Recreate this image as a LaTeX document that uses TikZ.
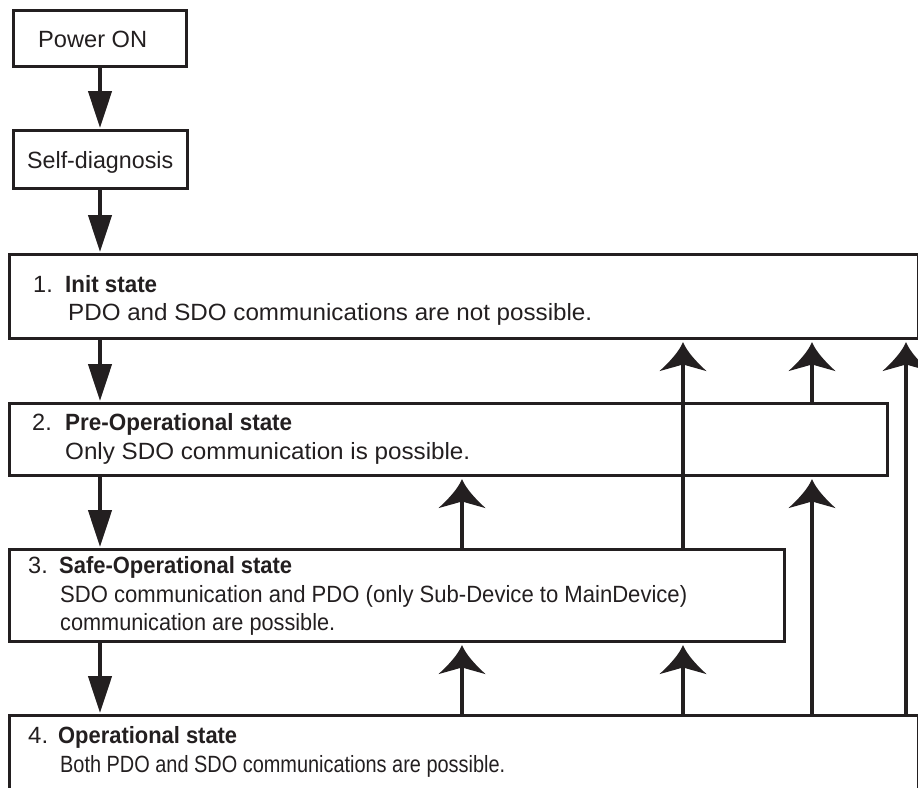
\documentclass[tikz,border=0pt]{standalone}
\usepackage{graphicx}
\usepackage{fontspec}
\setmainfont{Liberation Sans}
\usetikzlibrary{arrows.meta}
\definecolor{ink}{RGB}{35,31,32}

% Arrow head with swept-back, concave sides
\pgfdeclarearrow{
  name = Swept,
  parameters = {\the\pgfarrowlength,\the\pgfarrowwidth},
  setup code = {
    \pgfarrowssettipend{0pt}
    \pgfarrowssetbackend{-\pgfarrowlength}
    \pgfarrowssetlineend{-.72\pgfarrowlength}
    \pgfarrowssetvisualbackend{-.72\pgfarrowlength}
    \pgfarrowssavethe\pgfarrowlength
    \pgfarrowssavethe\pgfarrowwidth
  },
  drawing code = {
    \pgfpathmoveto{\pgfpointorigin}
    \pgfpathcurveto
      {\pgfpoint{-.35\pgfarrowlength}{.09\pgfarrowwidth}}
      {\pgfpoint{-.7\pgfarrowlength}{.3\pgfarrowwidth}}
      {\pgfpoint{-\pgfarrowlength}{.5\pgfarrowwidth}}
    \pgfpathcurveto
      {\pgfpoint{-.9\pgfarrowlength}{.28\pgfarrowwidth}}
      {\pgfpoint{-.81\pgfarrowlength}{.08\pgfarrowwidth}}
      {\pgfpoint{-.77\pgfarrowlength}{0pt}}
    \pgfpathcurveto
      {\pgfpoint{-.81\pgfarrowlength}{-.08\pgfarrowwidth}}
      {\pgfpoint{-.9\pgfarrowlength}{-.28\pgfarrowwidth}}
      {\pgfpoint{-\pgfarrowlength}{-.5\pgfarrowwidth}}
    \pgfpathcurveto
      {\pgfpoint{-.7\pgfarrowlength}{-.3\pgfarrowwidth}}
      {\pgfpoint{-.35\pgfarrowlength}{-.09\pgfarrowwidth}}
      {\pgfpointorigin}
    \pgfpathclose
    \pgfusepathqfill
  },
  defaults = {length = 28pt, width = 47pt}
}

% set a line of text to a given width, keeping its height
\newcommand\fitline[2]{\resizebox{#1pt}{\height}{#2}}

\begin{document}
\begin{tikzpicture}[x=1pt,y=-1pt,
  box/.style={draw=ink, line width=2.6pt, rectangle, anchor=north west, inner sep=0pt},
  txt/.style={anchor=base west, inner sep=0pt, font=\fontsize{23.5}{28}\selectfont, text=ink},
  down/.style={draw=ink, line width=4.5pt, -{Triangle[length=37pt,width=23pt]}, shorten >=1pt},
  up/.style={draw=ink, line width=4.5pt, -{Swept[length=29pt,width=47pt]}, shorten >=2.5pt}]
\useasboundingbox (0,0) rectangle (918,787);

% boxes
\node[box, minimum width=173pt, minimum height=56pt] (pwr)  at (12,9) {};
\node[box, minimum width=174pt, minimum height=58pt] (self) at (12,129) {};
\node[box, minimum width=909pt, minimum height=84pt] (init) at (8,253) {};
\node[box, minimum width=878pt, minimum height=72pt] (pre)  at (8,402) {};
\node[box, minimum width=775pt, minimum height=92pt] (safe) at (8,548) {};
\node[box, minimum width=909pt, minimum height=100pt] (op)  at (8,714) {};

% texts
\node[txt] (t0) at (38,48)  {\fitline{109}{Power ON}};
\node[txt] (t1) at (27,168) {\fitline{146}{Self-diagnosis}};
\node[txt] (n1) at (33,292) {1.};
\node[txt] (h1) at (65,292) {\fitline{92}{\bfseries Init state}};
\node[txt] (d1) at (68,320) {\fitline{524}{PDO and SDO communications are not possible.}};
\node[txt] (n2) at (32,430) {2.};
\node[txt] (h2) at (65,430) {\fitline{227}{\bfseries Pre-Operational state}};
\node[txt] (d2) at (65,459) {\fitline{405}{Only SDO communication is possible.}};
\node[txt] (n3) at (28,573) {3.};
\node[txt] (h3) at (59,573) {\fitline{233}{\bfseries Safe-Operational state}};
\node[txt] (d3) at (60,602) {\fitline{627}{SDO communication and PDO (only Sub-Device to MainDevice)}};
\node[txt] (e3) at (60,630) {\fitline{275}{communication are possible.}};
\node[txt] (n4) at (28,743) {\fitline{20}{4.}};
\node[txt] (h4) at (58,743) {\fitline{179}{\bfseries Operational state}};
\node[txt] (d4) at (60,772) {\fitline{445}{Both PDO and SDO communications are possible.}};

% columns of the connectors
\coordinate (col) at (100,0);
\coordinate (ua) at (462,0);
\coordinate (ub) at (683,0);
\coordinate (uc) at (812,0);
\coordinate (ud) at (906,0);

% forward transitions
\draw[down] (pwr.south -| col)  -- (self.north -| col);
\draw[down] (self.south -| col) -- (init.north -| col);
\draw[down] (init.south -| col) -- (pre.north -| col);
\draw[down] (pre.south -| col)  -- (safe.north -| col);
\draw[down] (safe.south -| col) -- (op.north -| col);

% backward transitions
\draw[up] (safe.north -| ua) -- (pre.south -| ua);
\draw[up] (safe.north -| ub) -- (init.south -| ub);
\draw[up] (pre.north -| uc)  -- (init.south -| uc);
\draw[up] (op.north -| ua)   -- (safe.south -| ua);
\draw[up] (op.north -| ub)   -- (safe.south -| ub);
\draw[up] (op.north -| uc)   -- (pre.south -| uc);
\draw[up] (op.north -| ud)   -- (init.south -| ud);
\end{tikzpicture}
\end{document}
